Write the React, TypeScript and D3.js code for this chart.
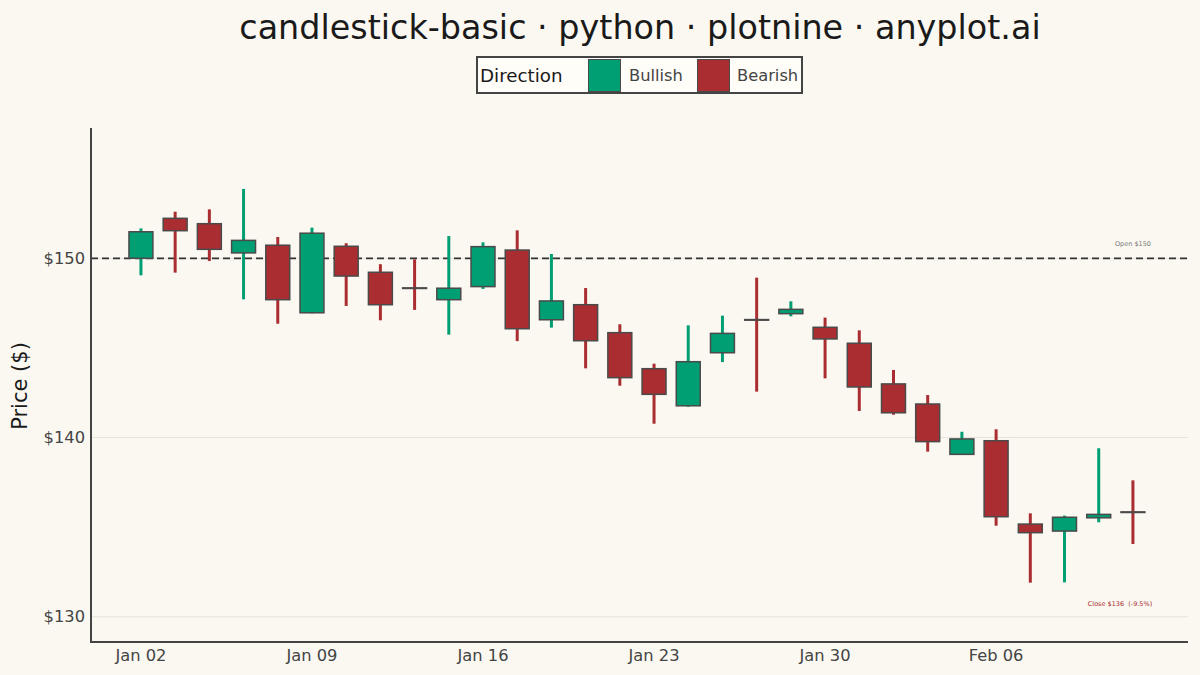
import React from "react";
import * as d3 from "d3";

const dates = [
  "Jan 02", "Jan 03", "Jan 04", "Jan 05", "Jan 08",
  "Jan 09", "Jan 10", "Jan 11", "Jan 12", "Jan 15",
  "Jan 16", "Jan 17", "Jan 18", "Jan 19", "Jan 22",
  "Jan 23", "Jan 24", "Jan 25", "Jan 26", "Jan 29",
  "Jan 30", "Jan 31", "Feb 01", "Feb 02", "Feb 05",
  "Feb 06", "Feb 07", "Feb 08", "Feb 09", "Feb 12",
];
const opens = [
  150.0, 152.23, 151.93, 150.3, 150.73, 146.96, 150.67, 149.22, 148.35, 147.69,
  148.42, 150.46, 146.57, 147.41, 145.85, 143.84, 141.77, 144.73, 146.58, 146.91,
  146.15, 145.26, 142.99, 141.87, 139.06, 139.82, 135.17, 134.78, 135.52, 135.85,
];
const closes = [
  151.48, 151.54, 150.5, 151.0, 147.69, 151.4, 149.01, 147.41, 148.32, 148.33,
  150.65, 146.07, 147.62, 145.4, 143.34, 142.41, 144.23, 145.81, 146.55, 147.15,
  145.5, 142.82, 141.38, 139.77, 139.92, 135.58, 134.69, 135.55, 135.71, 135.82,
];
const highs = [
  151.67, 152.6, 152.73, 153.87, 151.19, 151.71, 150.84, 149.67, 149.94, 151.24,
  150.89, 151.56, 150.24, 148.34, 146.32, 144.12, 146.26, 146.8, 148.92, 147.6,
  146.69, 145.98, 143.77, 142.37, 140.32, 140.46, 135.77, 135.64, 139.4, 137.61,
];
const lows = [
  149.05, 149.2, 149.85, 147.71, 146.35, 146.93, 147.34, 146.54, 147.12, 145.74,
  148.29, 145.38, 146.13, 143.86, 142.89, 140.77, 141.72, 144.21, 142.56, 146.76,
  143.3, 141.48, 141.27, 139.21, 139.05, 135.08, 131.9, 131.92, 135.27, 134.06,
];
const yTicks = [130, 140, 150];
const xTickIdx = [0, 5, 10, 15, 20, 25];
const openRef = 150;

const W = 1200;
const H = 675;
const BG = "#FAF8F1";
const BULL = "#009E73";
const BEAR = "#AA2E31";
const EDGE = "#4a4a4a";
const FONT = "'DejaVu Sans', sans-serif";

export default function App() {
  const x = d3.scaleLinear().domain([-1.46, 30.61]).range([91, 1188]);
  const y = d3.scaleLinear().domain([128.59, 157.27]).range([642, 128]);
  const step = x(1) - x(0);
  const bw = step * 0.7;
  const lastClose = closes[closes.length - 1];
  const pct = ((lastClose - openRef) / openRef) * 100;

  return (
    <svg width={W} height={H} style={{ position: "absolute", left: 0, top: 0, background: BG }}>
      <rect x={0} y={0} width={W} height={H} fill={BG} />
      <text x={640} y={27} textAnchor="middle" dominantBaseline="central" fontFamily={FONT} fontSize={33.4} fill="#1a1a1a">
        candlestick-basic · python · plotnine · anyplot.ai
      </text>
      {/* legend */}
      <rect x={477} y={57} width={325} height={36} fill="#FFFDF8" stroke="#444" strokeWidth={2} />
      <text x={480} y={75} dominantBaseline="central" fontFamily={FONT} fontSize={18.3} fill="#1a1a1a">Direction</text>
      <rect x={588.5} y={59.5} width={32} height={32} fill={BULL} stroke={EDGE} strokeWidth={1} />
      <text x={629} y={75} dominantBaseline="central" fontFamily={FONT} fontSize={16.3} fill="#444">Bullish</text>
      <rect x={697.5} y={59.5} width={32} height={32} fill={BEAR} stroke={EDGE} strokeWidth={1} />
      <text x={737} y={75} dominantBaseline="central" fontFamily={FONT} fontSize={16.3} fill="#444">Bearish</text>

      {/* grid */}
      {yTicks.map((t) => (
        <line key={t} x1={91} x2={1188} y1={y(t)} y2={y(t)} stroke="#E6E3DA" strokeWidth={1} />
      ))}
      {/* reference line */}
      <line x1={91} x2={1188} y1={y(openRef)} y2={y(openRef)} stroke="#333" strokeWidth={1.8} strokeDasharray="7,4" />
      <text x={1133} y={244} textAnchor="middle" dominantBaseline="central" fontFamily={FONT} fontSize={6.5} fill="#777">
        Open ${openRef}
      </text>
      <text x={1120} y={604} textAnchor="middle" dominantBaseline="central" fontFamily={FONT} fontSize={6.5} fill={BEAR} style={{ whiteSpace: "pre" }}>
        {`Close $${Math.round(lastClose)}  (${pct.toFixed(1)}%)`}
      </text>

      {/* candles */}
      {dates.map((d, i) => {
        const bull = closes[i] >= opens[i];
        const col = bull ? BULL : BEAR;
        const top = y(Math.max(opens[i], closes[i]));
        const bot = y(Math.min(opens[i], closes[i]));
        const cx = x(i);
        return (
          <g key={d}>
            <line x1={cx} x2={cx} y1={y(highs[i])} y2={y(lows[i])} stroke={col} strokeWidth={3} />
            <rect x={cx - bw / 2} y={top} width={bw} height={Math.max(bot - top, 0.6)} fill={col} stroke={EDGE} strokeWidth={1.5} />
          </g>
        );
      })}

      {/* axes */}
      <line x1={91} x2={91} y1={128} y2={642} stroke="#444" strokeWidth={2} />
      <line x1={90} x2={1188} y1={642} y2={642} stroke="#444" strokeWidth={2} />
      {yTicks.map((t) => (
        <text key={t} x={85} y={y(t)} textAnchor="end" dominantBaseline="central" fontFamily={FONT} fontSize={16.3} fill="#444">
          ${t}
        </text>
      ))}
      {xTickIdx.map((i) => (
        <text key={i} x={x(i)} y={655} textAnchor="middle" dominantBaseline="central" fontFamily={FONT} fontSize={16.3} fill="#444">
          {dates[i]}
        </text>
      ))}
      <text transform={`translate(20,386) rotate(-90)`} textAnchor="middle" dominantBaseline="central" fontFamily={FONT} fontSize={21} fill="#1a1a1a">
        Price ($)
      </text>
    </svg>
  );
}
